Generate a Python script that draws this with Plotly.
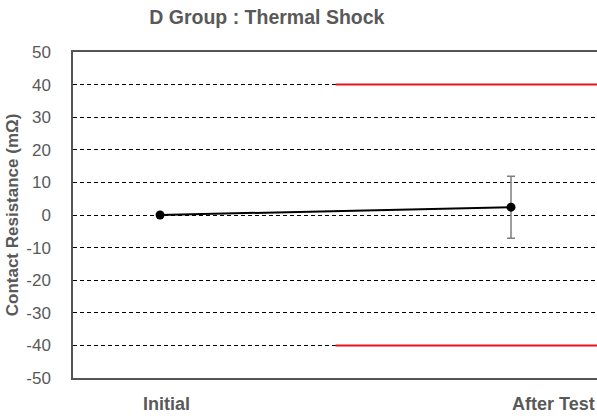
import plotly.graph_objects as go

# Contact resistance change, thermal shock test (D group)
categories = ["Initial", "After Test"]
resistance_change = [0.0, 2.4]
resistance_err = [0.0, 9.5]

# Specification limits (mΩ), applied from the midpoint onward
spec_upper = 40
spec_lower = -40

y_ticks = [50, 40, 30, 20, 10, 0, -10, -20, -30, -40, -50]
y_tick_text = ["50", "40", "30", "20", "10", "0", "-10", "-20", "-30", "-40", "-50"]

FONT = "Liberation Sans Narrow, Arial Narrow, Liberation Sans, Arial, sans-serif"
TEXT = "#595959"

x_pos = list(range(len(categories)))
x_range = [-0.248, 1.245]
spec_x = [(x_pos[0] + x_pos[-1]) / 2, x_range[1]]

fig = go.Figure()

fig.add_trace(go.Scatter(
    x=spec_x, y=[spec_upper, spec_upper], mode="lines",
    line=dict(color="#e8141c", width=2), hoverinfo="skip", showlegend=False,
))
fig.add_trace(go.Scatter(
    x=spec_x, y=[spec_lower, spec_lower], mode="lines",
    line=dict(color="#e8141c", width=2), hoverinfo="skip", showlegend=False,
))

fig.add_trace(go.Scatter(
    x=x_pos, y=resistance_change, mode="lines+markers",
    line=dict(color="black", width=2),
    marker=dict(color="black", size=9),
    error_y=dict(type="data", array=resistance_err, visible=True,
                 color="#7f7f7f", thickness=1.5, width=4),
    showlegend=False,
))

# Category labels under the axis
label_shift = [6, 42]
for xp, name, dx in zip(x_pos, categories, label_shift):
    fig.add_annotation(
        x=xp, y=0, xref="x", yref="paper", yanchor="top", yshift=-14,
        xshift=dx, text=f"<b>{name}</b>", showarrow=False,
        font=dict(family=FONT, size=18, color=TEXT),
    )

fig.update_layout(
    width=597, height=419,
    margin=dict(l=73, r=0, t=52, b=41),
    paper_bgcolor="white", plot_bgcolor="white",
    title=dict(text="<b>D Group : Thermal Shock</b>", x=0.447, xanchor="center",
               y=0.958, yanchor="middle",
               font=dict(family=FONT, size=19.5, color=TEXT)),
    xaxis=dict(range=x_range, showgrid=False, zeroline=False,
               showticklabels=False, ticks="",
               showline=True, linecolor="#555555", linewidth=1.5, mirror=True),
    yaxis=dict(range=[-50, 50], tickvals=y_ticks, ticktext=y_tick_text,
               showgrid=True, gridcolor="black", gridwidth=1, griddash="4px,3px",
               zeroline=False, showline=True, linecolor="#555555", linewidth=1.5,
               ticks="", ticklabelstandoff=17,
               tickfont=dict(family=FONT, size=17, color=TEXT),
               title=dict(text="<b>Contact Resistance (mΩ)</b>", standoff=3,
                          font=dict(family=FONT, size=17, color=TEXT))),
)

fig.write_html("out.html")
